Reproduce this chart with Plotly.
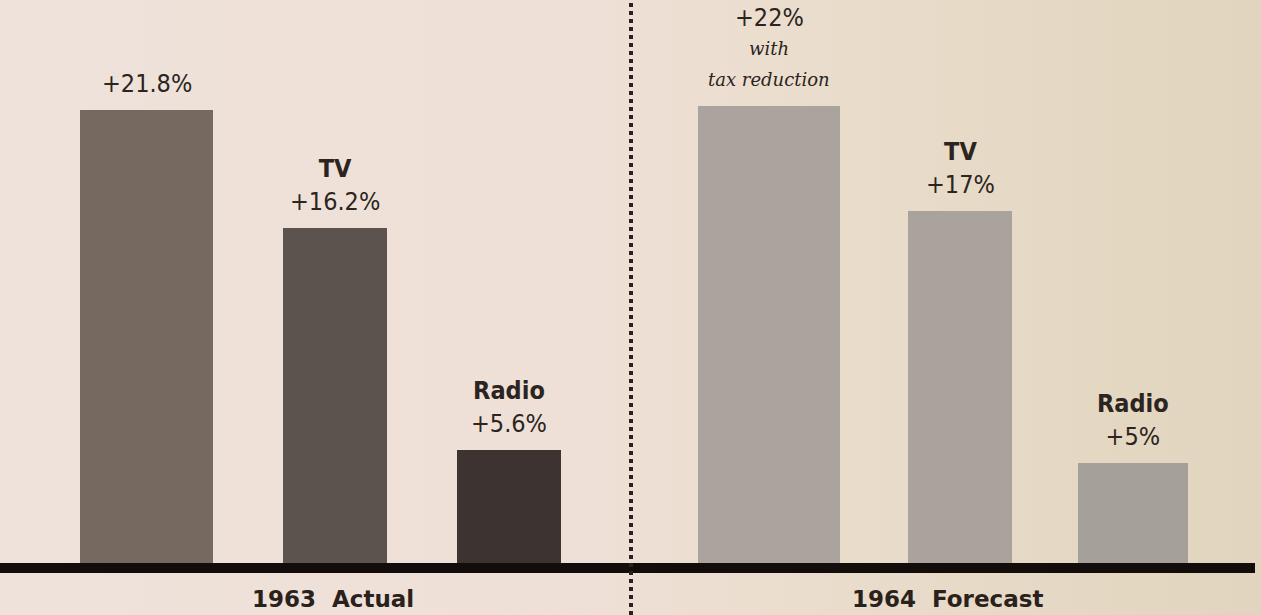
import plotly.graph_objects as go

# ---- data ----
groups = ["1963 Actual", "1964 Forecast"]
actual_labels = ["", "TV", "Radio"]
actual_values = [21.8, 16.2, 5.6]
forecast_labels = ["", "TV", "Radio"]
forecast_values = [22.0, 17.0, 5.0]
forecast_notes = ["with", "", ""]
forecast_notes2 = ["tax reduction", "", ""]

# ---- layout constants (pixel-like x scale) ----
W, H = 1261, 615
actual_x = [146.5, 335, 509]
actual_w = [133, 104, 104]
forecast_x = [769, 960, 1133]
forecast_w = [142, 104, 110]
actual_colors = ["#76695f", "#5c524e", "#3d3432"]
forecast_colors = ["#aba49e", "#a9a29d", "#a6a09a"]
ink = "#2b2420"
scale = 21.0          # px per percentage point
below = 47            # px below baseline
y_min = -below / scale
y_max = (H - below) / scale

num_font = dict(family="DejaVu Sans Condensed, Liberation Sans Narrow, sans-serif",
                size=25, color=ink)

fig = go.Figure()

# paper-like background with a warm horizontal tint (base axes, drawn first)
fig.add_trace(go.Scatter(x=[0, W, W, 0, 0], y=[0, 0, 1, 1, 0],
                         mode="lines", line=dict(width=0), fill="toself",
                         fillgradient=dict(type="horizontal",
                                           colorscale=[[0, "#efe2da"], [0.45, "#eee0d7"],
                                                       [0.6, "#ebdecf"], [0.8, "#e6d9c5"],
                                                       [1, "#e2d5bf"]]),
                         xaxis="x", yaxis="y",
                         showlegend=False, hoverinfo="skip"))

# bars on overlaying axes so they sit above the background
fig.add_trace(go.Bar(x=actual_x, y=actual_values, width=actual_w,
                     marker=dict(color=actual_colors, line=dict(width=0)),
                     xaxis="x2", yaxis="y2",
                     name=groups[0], showlegend=False, hoverinfo="skip"))
fig.add_trace(go.Bar(x=forecast_x, y=forecast_values, width=forecast_w,
                     marker=dict(color=forecast_colors, line=dict(width=0)),
                     xaxis="x2", yaxis="y2",
                     name=groups[1], showlegend=False, hoverinfo="skip"))

def fmt(v):
    s = f"{v:.1f}"
    if s.endswith(".0"):
        s = s[:-2]
    return "+" + s + "%"

annotations = []
def add_labels(xs, vals, labels, notes, notes2):
    for x, v, lab, n1, n2 in zip(xs, vals, labels, notes, notes2):
        txt = (f"<b>{lab}</b><br>" if lab else "") + fmt(v)
        shift = 10
        note_font = dict(family="DejaVu Serif, Liberation Serif, serif",
                         size=18, color=ink, style="italic")
        if n2:
            annotations.append(dict(x=x, y=v, xref="x2", yref="y2", text=n2,
                                    showarrow=False, yanchor="bottom", yshift=14,
                                    font=note_font))
        if n1:
            annotations.append(dict(x=x, y=v, xref="x2", yref="y2", text=n1,
                                    showarrow=False, yanchor="bottom", yshift=45,
                                    font=note_font))
            shift = 72
        annotations.append(dict(x=x, y=v, xref="x2", yref="y2", text=txt,
                                showarrow=False, yanchor="bottom", yshift=shift,
                                font=num_font))

add_labels(actual_x, actual_values, actual_labels, ["", "", ""], ["", "", ""])
add_labels(forecast_x, forecast_values, forecast_labels, forecast_notes, forecast_notes2)

# group titles below the baseline
group_font = dict(family="DejaVu Sans, sans-serif", size=23, color="#2a211c", weight="bold")
annotations.append(dict(x=250, y=0, xref="x2", yref="y2", text="1963  Actual",
                        showarrow=False, xanchor="left", yanchor="top", yshift=-16,
                        font=group_font))
annotations.append(dict(x=850, y=0, xref="x2", yref="y2", text="1964  Forecast",
                        showarrow=False, xanchor="left", yanchor="top", yshift=-16,
                        font=group_font))

shapes = [
    # thick baseline
    dict(type="line", xref="x2", yref="y2", x0=0, x1=1255, y0=0, y1=0,
         line=dict(color="#120c0a", width=10), layer="above"),
    # dotted divider
    dict(type="line", xref="x2", yref="paper", x0=631, x1=631, y0=0, y1=1,
         line=dict(color="#2a2220", width=4, dash="dot"), layer="above"),
]

fig.update_layout(
    width=W, height=H,
    margin=dict(l=0, r=0, t=0, b=0),
    paper_bgcolor="#eadfd3", plot_bgcolor="#eadfd3",
    xaxis=dict(range=[0, W], visible=False, fixedrange=True),
    yaxis=dict(range=[0, 1], visible=False, fixedrange=True),
    xaxis2=dict(range=[0, W], visible=False, fixedrange=True, overlaying="x"),
    yaxis2=dict(range=[y_min, y_max], visible=False, fixedrange=True, overlaying="y"),
    annotations=annotations, shapes=shapes,
    bargap=0,
)

fig.write_html("out.html")
